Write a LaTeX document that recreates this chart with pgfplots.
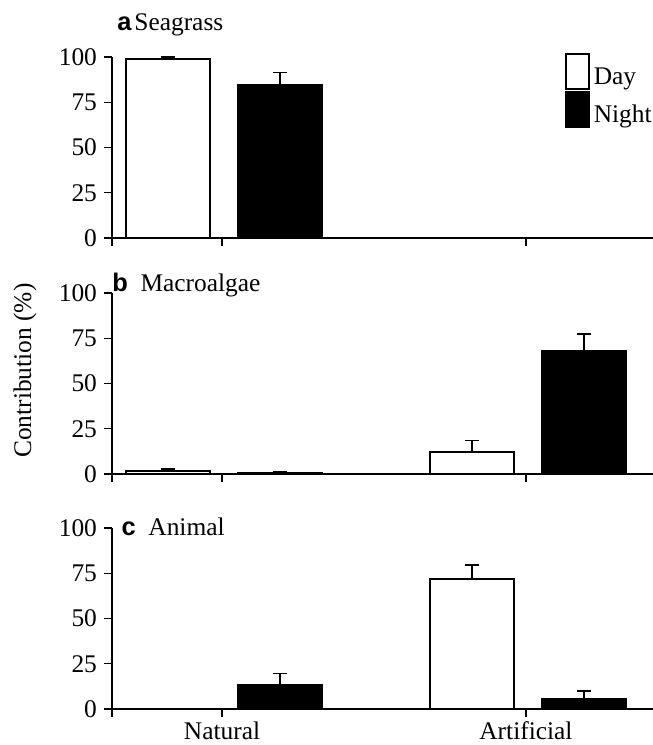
\documentclass[border=0pt]{standalone}
\usepackage{fontspec}
\setmainfont{Liberation Serif}
\newfontfamily\helv{Liberation Sans}
\usepackage{pgfplots}
\pgfplotsset{compat=1.18}

\pgfplotsset{
 panel/.style={
  scale only axis, width=270.5pt, height=90.5pt,
  axis x line*=bottom, axis y line*=left,
  xmin=-0.362, xmax=1.418, ymin=0, ymax=100,
  ytick={0,25,50,75,100},
  xtick={-0.362,0,1}, xticklabels={,,},
  tick align=outside, major tick length=4pt,
  tick style={black, line width=0.7pt},
  axis line style={line width=0.8pt},
  ybar, bar width=42pt,
  clip=false,
  font=\fontsize{12.7pt}{15pt}\selectfont,
  tick label style={font=\fontsize{12.7pt}{15pt}\selectfont},
  /pgf/number format/assume math mode=true,
  error bars/y dir=plus, error bars/y explicit,
  error bars/error bar style={line width=0.75pt, black, solid},
  error bars/error mark options={rotate=90, mark size=3.5pt, line width=0.75pt, black, solid},
 },
}

\begin{document}
\begin{tikzpicture}
\path[use as bounding box] (-56pt,-253.5pt) rectangle (270.5pt,119pt);

% Panel a
\begin{axis}[panel, at={(0pt,0pt)}, anchor=south west,
  legend style={at={(rel axis cs:0.837,1.022)}, anchor=north west, draw=none, fill=none,
    inner sep=0pt, outer sep=0pt, row sep=0pt, column sep=0pt,
    cells={anchor=base west, inner sep=0pt},
    /tikz/every even column/.append style={column sep=2pt},
    font=\fontsize{12.7pt}{15pt}\selectfont},
  legend image code/.code={\draw[#1, line width=1pt] (0pt,-2.5pt) rectangle (11.5pt,15pt);}]
\addplot[fill=white, draw=black, line width=1pt, bar shift=-27pt] coordinates {(0,98.7) +- (0,1.4)};
\addplot[fill=black, draw=black, line width=1pt, bar shift=29pt] coordinates {(0,84.5) +- (0,7.0)};
\legend{Day,Night}
\node[anchor=base west, inner sep=0pt] at (rel axis cs:0.009,1.149) {{\helv\bfseries a}\hspace{1.5pt}Seagrass};
\end{axis}

% Panel b
\begin{axis}[panel, at={(0pt,-118pt)}, anchor=south west]
\addplot[fill=white, draw=black, line width=1pt, bar shift=-27pt] coordinates {(0,1.5) +- (0,1.3) (1,12.4) +- (0,6.2)};
\addplot[fill=black, draw=black, line width=1pt, bar shift=29pt] coordinates {(0,0.5) +- (0,0.6) (1,67.9) +- (0,9.5)};
\node[anchor=base west, inner sep=0pt] at (rel axis cs:0,1.011) {{\helv\bfseries b}\ \ Macroalgae};
\node[rotate=90, anchor=center, inner sep=0pt] at (rel axis cs:-0.161,0.571) {Contribution (\%)};
\end{axis}

% Panel c
\begin{axis}[panel, at={(0pt,-235.5pt)}, anchor=south west,
  xticklabels={,Natural,Artificial},
  xticklabel style={yshift=1.2pt}]
\addplot[fill=white, draw=black, line width=1pt, bar shift=-27pt] coordinates {(1,71.6) +- (0,8.0)};
\addplot[fill=black, draw=black, line width=1pt, bar shift=29pt] coordinates {(0,13.2) +- (0,6.3) (1,5.7) +- (0,4.2)};
\node[anchor=base west, inner sep=0pt] at (rel axis cs:0.017,0.956) {{\helv\bfseries c}\ \ Animal};
\end{axis}
\end{tikzpicture}
\end{document}
